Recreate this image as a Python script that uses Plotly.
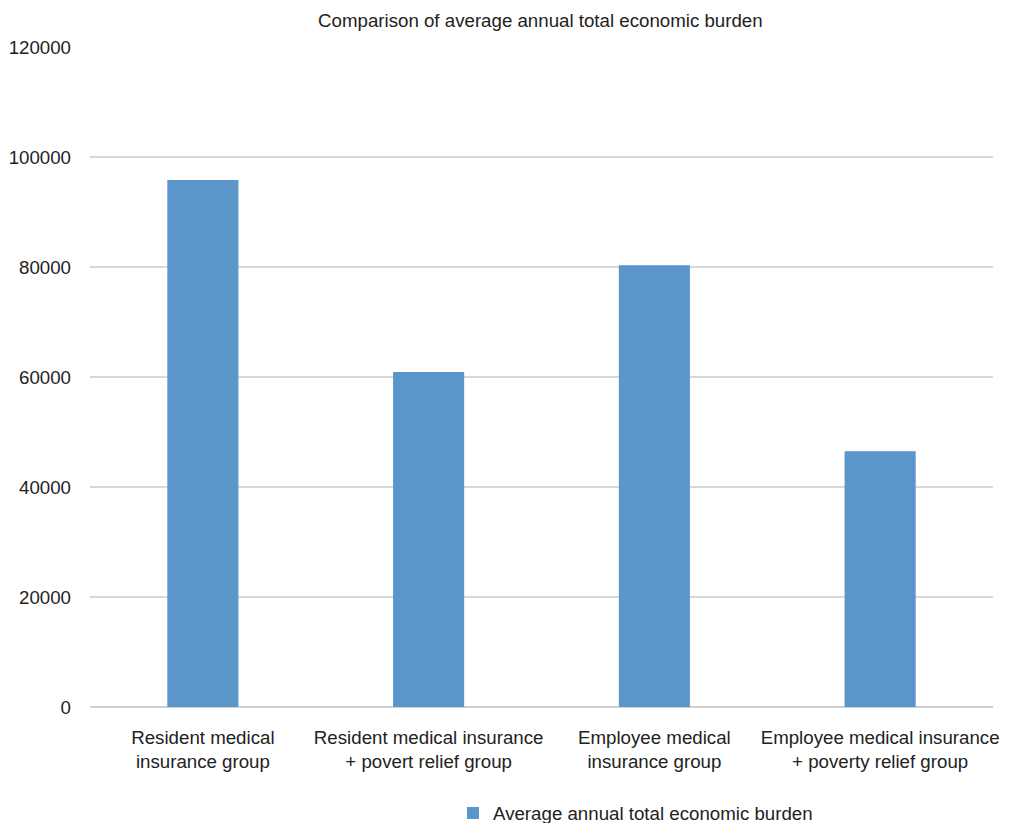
import plotly.graph_objects as go

categories = [
    "Resident medical<br>insurance group",
    "Resident medical insurance<br>+ povert relief group",
    "Employee medical<br>insurance group",
    "Employee medical insurance<br>+ poverty relief group",
]
values = [95800, 60900, 80300, 46500]
series_name = "Average annual total economic burden"
title_text = "Comparison of average annual total economic burden"
y_ticks = [0, 20000, 40000, 60000, 80000, 100000, 120000]

font_family = "Liberation Sans, Arial, Helvetica, sans-serif"
FS = 18.7

fig = go.Figure()
fig.add_trace(go.Bar(
    x=categories, y=values, name=series_name,
    marker=dict(color="#5b96cb", line=dict(width=0)),
    width=0.315, showlegend=True,
))
fig.update_layout(
    width=1010, height=823,
    margin=dict(l=90, r=17, t=47, b=116, autoexpand=False),
    paper_bgcolor="white", plot_bgcolor="white",
    title=dict(text=title_text, x=0.535, xanchor="center", y=0.975, yanchor="middle",
               font=dict(family=font_family, size=FS, color="#222222")),
    font=dict(family=font_family, size=FS, color="#222222"),
    showlegend=True,
    legend=dict(orientation="h", x=0.402, xanchor="left", y=-0.161, yanchor="middle",
                font=dict(size=FS, color="#222222"), itemsizing="constant"),
)
fig.update_yaxes(range=[0, 120000], tickvals=y_ticks, ticktext=[str(v) for v in y_ticks],
                 showgrid=True, gridcolor="#d9d9d9", gridwidth=1.5,
                 zeroline=True, zerolinecolor="#d0d0d0", zerolinewidth=1.5,
                 showline=False, ticks="", ticklabelstandoff=18, automargin=False,
                 tickfont=dict(size=FS, color="#222222"))
fig.update_xaxes(showline=False, ticks="", showgrid=False, automargin=False,
                 tickfont=dict(size=FS, color="#222222"), ticklabelstandoff=17)
fig.write_html("out.html")
